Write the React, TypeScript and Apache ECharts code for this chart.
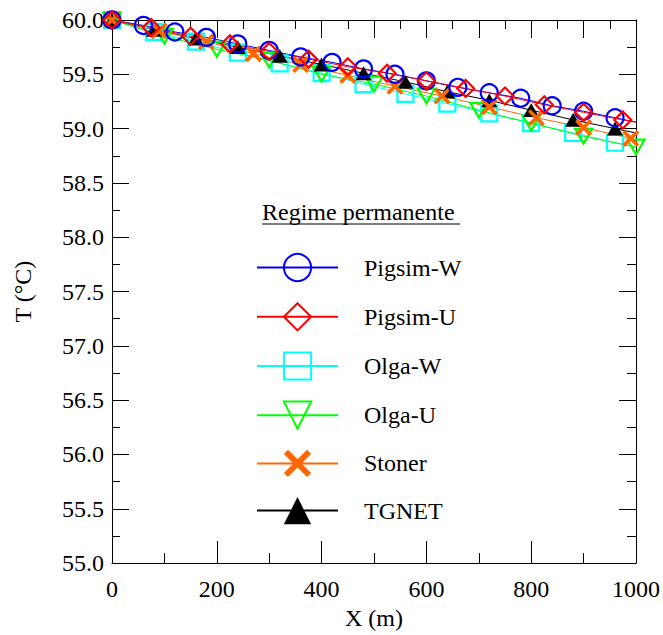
import React, { useEffect, useRef } from "react";
import * as echarts from "echarts";

// Temperature profiles along the line, steady state
const pigsimWX = [0, 60, 120, 180, 240, 300, 360, 420, 480, 540, 600, 660, 720, 780, 840, 900, 960];
const pigsimWT = [60.0, 59.95, 59.89, 59.84, 59.78, 59.72, 59.66, 59.61, 59.55, 59.5, 59.44, 59.38, 59.33, 59.28, 59.21, 59.16, 59.1];
const pigsimWEnd = 59.06;

const pigsimUX = [0, 75, 150, 225, 300, 375, 450, 525, 600, 675, 750, 825, 900, 975];
const pigsimUT = [60.0, 59.93, 59.85, 59.78, 59.71, 59.64, 59.57, 59.51, 59.44, 59.37, 59.3, 59.22, 59.15, 59.08];
const pigsimUEnd = 59.06;

const olgaWX = [0, 80, 160, 240, 320, 400, 480, 560, 640, 720, 800, 880, 960];
const olgaWT = [60.0, 59.89, 59.8, 59.7, 59.6, 59.51, 59.41, 59.32, 59.23, 59.14, 59.05, 58.96, 58.87];
const olgaWEnd = 58.83;

const olgaUX = [0, 100, 200, 300, 400, 500, 600, 700, 800, 900, 1000];
const olgaUT = [60.0, 59.85, 59.73, 59.63, 59.5, 59.41, 59.3, 59.17, 59.05, 58.93, 58.83];

const stonerX = [0, 90, 180, 270, 360, 450, 540, 630, 720, 810, 900, 990];
const stonerT = [60.0, 59.9, 59.8, 59.69, 59.59, 59.49, 59.39, 59.3, 59.2, 59.1, 59.01, 58.91];
const stonerEnd = 58.9;

const tgnetX = [0, 80, 160, 240, 320, 400, 480, 560, 640, 720, 800, 880, 960];
const tgnetT = [60.0, 59.91, 59.83, 59.75, 59.67, 59.59, 59.51, 59.43, 59.34, 59.26, 59.17, 59.08, 59.0];
const tgnetEnd = 58.96;

const legendNames = ["Pigsim-W", "Pigsim-U", "Olga-W", "Olga-U", "Stoner", "TGNET"];

const FONT = "'Liberation Serif', 'Times New Roman', serif";

const X_MARK = "path://M0,1.5 L1.5,0 L5,3.5 L8.5,0 L10,1.5 L6.5,5 L10,8.5 L8.5,10 L5,6.5 L1.5,10 L0,8.5 L3.5,5 Z";
const TRI_DOWN = "path://M0,0 L10,0 L5,8.66 Z";
const TRI_UP = "path://M5,0 L10,8.66 L0,8.66 Z";

function buildData(xs: number[], ts: number[], end?: number) {
  const pts: any[] = xs.map((x, i) => [x, ts[i]]);
  if (end !== undefined) pts.push({ value: [1000, end], symbol: "none" });
  return pts;
}

function hollowSeries(name: string, color: string, symbol: string, data: any[], size = 17, keep = false) {
  return {
    name,
    type: "line",
    data,
    symbol,
    symbolSize: size,
    symbolKeepAspect: keep,
    showAllSymbol: true,
    lineStyle: { color, width: 1 },
    itemStyle: { color: "rgba(0,0,0,0)", borderColor: color, borderWidth: 2.2 },
    emphasis: { disabled: true },
  };
}

function filledSeries(name: string, color: string, lineColor: string, symbol: string, data: any[], size = 17) {
  return {
    name,
    type: "line",
    data,
    symbol,
    symbolSize: size,
    symbolKeepAspect: true,
    showAllSymbol: true,
    lineStyle: { color: lineColor, width: 1 },
    itemStyle: { color, borderColor: color, borderWidth: 0 },
    emphasis: { disabled: true },
  };
}

export default function App() {
  const ref = useRef<HTMLDivElement>(null);

  useEffect(() => {
    document.body.style.margin = "0";
    const chart = echarts.init(ref.current!, undefined, { renderer: "svg" });

    const axisLine = { show: true, onZero: false, lineStyle: { color: "#000", width: 1 } };

    const option: any = {
      animation: false,
      backgroundColor: "#fff",
      textStyle: { fontFamily: FONT },
      grid: { left: 112, right: 27, top: 20, bottom: 69, containLabel: false },
      xAxis: [
        {
          type: "value",
          position: "bottom",
          min: 0,
          max: 1000,
          interval: 200,
          name: "X (m)",
          nameLocation: "middle",
          nameGap: 42,
          nameTextStyle: { fontFamily: FONT, fontSize: 24, color: "#000" },
          axisLine,
          axisTick: { show: true, inside: true, length: 22, lineStyle: { color: "#000" } },
          minorTick: { show: true, splitNumber: 2, length: 10, lineStyle: { color: "#000" } },
          axisLabel: {
            fontFamily: FONT,
            fontSize: 24,
            color: "#000",
            margin: 14,
            formatter: (v: number) => String(v),
          },
          splitLine: { show: false },
        },
        {
          type: "value",
          position: "top",
          min: 0,
          max: 1000,
          interval: 100,
          axisLine,
          axisTick: { show: true, inside: true, length: 18, lineStyle: { color: "#000" } },
          minorTick: { show: true, splitNumber: 2, length: 9, lineStyle: { color: "#000" } },
          axisLabel: { show: false },
          splitLine: { show: false },
        },
      ],
      yAxis: [
        {
          type: "value",
          position: "left",
          min: 55,
          max: 60,
          interval: 0.5,
          name: "T (°C)",
          nameLocation: "middle",
          nameGap: 77,
          nameRotate: 90,
          nameTextStyle: { fontFamily: FONT, fontSize: 24, color: "#000" },
          axisLine,
          axisTick: { show: true, inside: true, length: 17, lineStyle: { color: "#000" } },
          minorTick: { show: true, splitNumber: 2, length: 8, lineStyle: { color: "#000" } },
          axisLabel: {
            fontFamily: FONT,
            fontSize: 24,
            color: "#000",
            margin: 8,
            formatter: (v: number) => v.toFixed(1),
          },
          splitLine: { show: false },
        },
        {
          type: "value",
          position: "right",
          min: 55,
          max: 60,
          interval: 0.5,
          axisLine,
          axisTick: { show: true, inside: true, length: 17, lineStyle: { color: "#000" } },
          minorTick: { show: true, splitNumber: 2, length: 9, lineStyle: { color: "#000" } },
          axisLabel: { show: false },
          splitLine: { show: false },
        },
      ],
      legend: {
        data: legendNames,
        orient: "vertical",
        left: 256,
        top: 253,
        padding: 0,
        itemWidth: 81,
        itemHeight: 34,
        itemGap: 20,
        selectedMode: false,
        textStyle: { fontFamily: FONT, fontSize: 24, color: "#000", padding: [0, 0, 0, 21] },
      },
      graphic: [
        {
          type: "text",
          left: 262,
          top: 200,
          style: { text: "Regime permanente", fontFamily: FONT, fontSize: 24, fill: "#000" },
        },
        {
          type: "line",
          shape: { x1: 262, y1: 224, x2: 460, y2: 224 },
          style: { stroke: "#000", lineWidth: 1.2 },
        },
      ],
      series: [
        hollowSeries("Olga-W", "#00ffff", "rect", buildData(olgaWX, olgaWT, olgaWEnd), 16),
        hollowSeries("Olga-U", "#00ff00", TRI_DOWN, buildData(olgaUX, olgaUT), 17, true),
        filledSeries("TGNET", "#000000", "#000000", TRI_UP, buildData(tgnetX, tgnetT, tgnetEnd), 16),
        filledSeries("Stoner", "#ff6600", "#ff6600", X_MARK, buildData(stonerX, stonerT, stonerEnd), 17),
        hollowSeries("Pigsim-W", "#0000ff", "circle", buildData(pigsimWX, pigsimWT, pigsimWEnd), 17),
        hollowSeries("Pigsim-U", "#ff0000", "diamond", buildData(pigsimUX, pigsimUT, pigsimUEnd), 17),
      ],
    };

    chart.setOption(option);
    return () => chart.dispose();
  }, []);

  return (
    <div
      ref={ref}
      style={{ position: "absolute", left: 0, top: 0, width: 663, height: 635, background: "#fff" }}
    />
  );
}
